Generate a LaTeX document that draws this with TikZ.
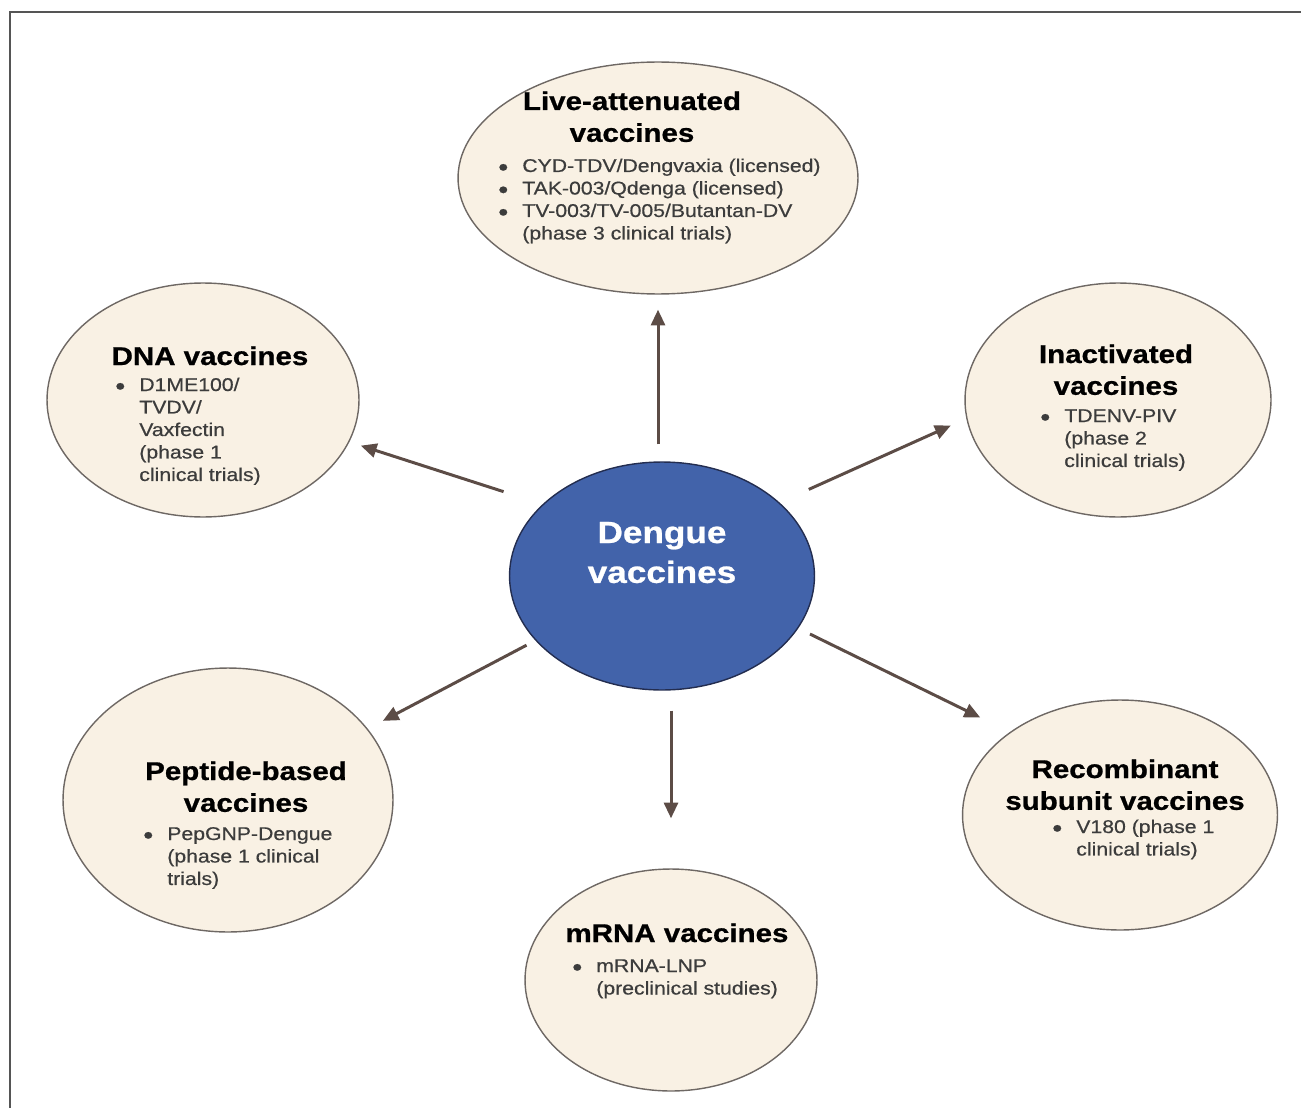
\documentclass[tikz,border=0pt]{standalone}
\usepackage{fontspec}
\setmainfont[FakeStretch=1.15]{Liberation Sans}
\newfontfamily\itemfont[FakeStretch=1.15,FakeBold=0.6]{Liberation Sans}
\newfontfamily\headfont[FakeStretch=1.15,FakeBold=0.8]{Liberation Sans Bold}
\usetikzlibrary{shapes.geometric,arrows.meta}

\definecolor{cream}{RGB}{249,241,228}
\definecolor{rimgray}{RGB}{110,104,100}
\definecolor{hubblue}{RGB}{66,99,170}
\definecolor{hubrim}{RGB}{35,45,80}
\definecolor{arrowbrown}{RGB}{92,76,70}
\definecolor{itemgray}{RGB}{60,60,60}
\definecolor{framegray}{RGB}{85,85,85}

\newcommand{\dotmark}{\raisebox{-2pt}{\fontsize{14}{12.8}\selectfont •}}
\newcommand{\itemlist}[1]{\begin{tabular}[t]{@{}l@{\hspace{8pt}}l@{}}#1\end{tabular}}
\newcommand{\headlines}[1]{\begin{tabular}[t]{@{}c@{}}#1\end{tabular}}

\begin{document}
\begin{tikzpicture}[x=0.02cm,y=-0.02cm,
    bubble/.style={ellipse,draw=rimgray,line width=0.8pt,fill=cream,inner sep=0pt},
    hub/.style={ellipse,draw=hubrim,line width=0.8pt,fill=hubblue,inner sep=0pt},
    heading/.style={anchor=base,inner sep=0pt,font=\fontsize{14.6}{18.1}\selectfont\headfont},
    items/.style={anchor=base west,inner sep=0pt,text=itemgray,font=\fontsize{10.5}{12.8}\selectfont\itemfont},
    link/.style={draw=arrowbrown,line width=1.7pt,-{Triangle[length=9pt,width=8pt]},
        shorten <=0.32cm,shorten >=0.32cm}]

    \useasboundingbox (0,0) rectangle (1301,1108);

    % frame (top and left edge)
    \draw[framegray,line width=1.2pt] (10,1108) -- (10,12) -- (1301,12);

    % central hub
    \node[hub,minimum width=6.1cm,minimum height=4.56cm] (hub) at (662,576) {};
    \node[heading,text=white,font=\fontsize{17.4}{22.7}\selectfont\headfont] (hubtext)
        at (662,543) {\headlines{Dengue\\vaccines}};

    % live-attenuated (top)
    \node[bubble,minimum width=8cm,minimum height=4.64cm] (live) at (658,178) {};
    \node[heading] (livehead) at (632,110) {\headlines{Live-attenuated\\vaccines}};
    \node[items] (liveitems) at (498,172) {\itemlist{\dotmark & CYD-TDV/Dengvaxia (licensed)\\
        \dotmark & TAK-003/Qdenga (licensed)\\
        \dotmark & TV-003/TV-005/Butantan-DV\\
          & (phase 3 clinical trials)}};

    % DNA (upper left)
    \node[bubble,minimum width=6.24cm,minimum height=4.68cm] (dna) at (203,400) {};
    \node[heading] (dnahead) at (210,365) {\headlines{DNA vaccines}};
    \node[items] (dnaitems) at (115,391) {\itemlist{\dotmark & D1ME100/\\
          & TVDV/\\
          & Vaxfectin\\
          & (phase 1\\
          & clinical trials)}};

    % inactivated (upper right)
    \node[bubble,minimum width=6.12cm,minimum height=4.68cm] (inact) at (1118,400) {};
    \node[heading] (inacthead) at (1116,363) {\headlines{Inactivated\\vaccines}};
    \node[items] (inactitems) at (1040,422) {\itemlist{\dotmark & TDENV-PIV\\
          & (phase 2\\
          & clinical trials)}};

    % peptide-based (lower left)
    \node[bubble,minimum width=6.6cm,minimum height=5.28cm] (pep) at (228,800) {};
    \node[heading] (pephead) at (246,780) {\headlines{Peptide-based\\vaccines}};
    \node[items] (pepitems) at (143,840) {\itemlist{\dotmark & PepGNP-Dengue\\
          & (phase 1 clinical\\
          & trials)}};

    % mRNA (bottom)
    \node[bubble,minimum width=5.84cm,minimum height=4.44cm] (mrna) at (671,980) {};
    \node[heading] (mrnahead) at (677,942) {\headlines{mRNA vaccines}};
    \node[items] (mrnaitems) at (572,972) {\itemlist{\dotmark & mRNA-LNP\\
          & (preclinical studies)}};

    % recombinant subunit (lower right)
    \node[bubble,minimum width=6.3cm,minimum height=4.6cm] (rec) at (1120,815) {};
    \node[heading] (rechead) at (1125,778) {\headlines{Recombinant\\subunit vaccines}};
    \node[items] (recitems) at (1052,833) {\itemlist{\dotmark & V180 (phase 1\\
          & clinical trials)}};

    % arrows out of the hub
    \draw[link,shorten <=0.34cm,shorten >=0.3cm] (live.south |- hub.north) -- (live.south);
    \draw[link,shorten <=0.82cm,shorten >=0.24cm] (hub.149) -- (dna.-16);
    \draw[link,shorten <=0.64cm,shorten >=0.34cm] (hub.32) -- (inact.187);
    \draw[link,shorten <=0.2cm,shorten >=0.34cm] (hub.207) -- (pep.27);
    \draw[link,shorten <=0.4cm,shorten >=1cm] (mrna.north |- hub.south) -- (mrna.north);
    \draw[link,shorten <=0.26cm,shorten >=0.66cm] (hub.-21) -- (rec.143);

\end{tikzpicture}
\end{document}
